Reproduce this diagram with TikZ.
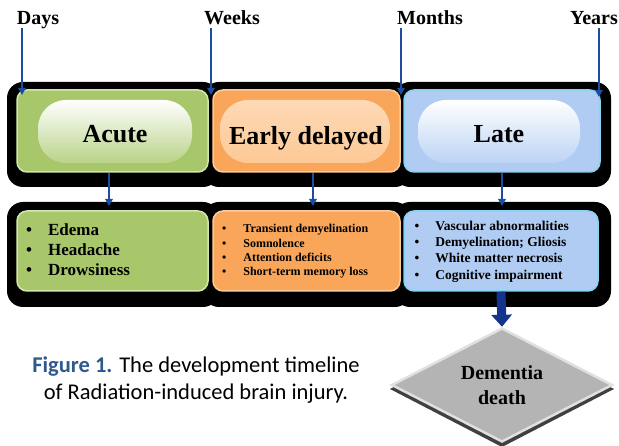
\documentclass[tikz,border=0pt]{standalone}
\usepackage{fontspec}
\setmainfont{Liberation Serif}
\newfontfamily\capfont{Carlito}
\usetikzlibrary{arrows.meta,shapes.geometric}
\definecolor{gfill}{HTML}{A8C76A}
\definecolor{gline}{HTML}{D2E6AE}
\definecolor{ofill}{HTML}{F9A65A}
\definecolor{oline}{HTML}{FCCB9C}
\definecolor{opill}{HTML}{FDC995}
\definecolor{bfill}{HTML}{B0CCF2}
\definecolor{bline}{HTML}{86D3F0}
\definecolor{arrowblue}{HTML}{1C4DA1}
\definecolor{navy}{HTML}{13338C}
\definecolor{capblue}{HTML}{2F5B8C}
\definecolor{dgray}{HTML}{B4B4B4}
\definecolor{lgray}{HTML}{E0E0E0}
\tikzset{
  backing/.style={fill=black,rounded corners=16pt},
  stagebox/.style={rectangle,rounded corners=10pt,line width=1.5pt,inner sep=0pt},
  pill/.style={rectangle,rounded corners=28pt,inner sep=0pt,minimum height=63pt},
  stagelabel/.style={font=\fontsize{26}{30}\selectfont\bfseries,anchor=base,inner sep=0pt},
  timelabel/.style={font=\fontsize{20}{24}\selectfont\bfseries,anchor=base,inner sep=0pt},
  tarrow/.style={draw=arrowblue,line width=2pt,-{Triangle[length=7pt,width=7.5pt]}},
  listnode/.style={anchor=west,inner sep=0pt,align=left}
}
\begin{document}
\begin{tikzpicture}[x=1pt,y=-1pt]
\useasboundingbox (0,0) rectangle (619,446);
% black backings
\fill[backing] (7,82) rectangle (219,187);
\fill[backing] (203,82) rectangle (411,187);
\fill[backing] (394,82) rectangle (611,187);
\fill[backing] (7,202) rectangle (219,307);
\fill[backing] (203,202) rectangle (411,307);
\fill[backing] (394,202) rectangle (611,307);
% top boxes
\node[stagebox,fill=gfill,draw=gline,minimum width=191pt,minimum height=82pt] (acute) at (112.5,131) {};
\node[stagebox,fill=ofill,draw=oline,minimum width=187pt,minimum height=82pt] (early) at (306.5,131) {};
\node[stagebox,fill=bfill,draw=bline,minimum width=196pt,minimum height=82pt] (late) at (502,131) {};
% pills
\node[pill,top color=white,bottom color=gfill!80!white,minimum width=154pt] (pa) at (115,131.5) {};
\node[pill,top color=opill!70!white,bottom color=opill,minimum width=170pt] (pe) at (305,131.5) {};
\node[pill,top color=white,bottom color=bfill!85!white,minimum width=162pt] (pl) at (499,131.5) {};
\node[stagelabel] (ta) at (115,143) {Acute};
\node[stagelabel] (te) at (306,145) {Early delayed};
\node[stagelabel] (tl) at (499,143) {Late};
% bottom boxes
\node[stagebox,fill=gfill,draw=gline,minimum width=191pt,minimum height=80pt] (acuteb) at (112.5,251) {};
\node[stagebox,fill=ofill,draw=oline,minimum width=187pt,minimum height=80pt] (earlyb) at (306.5,251) {};
\node[stagebox,fill=bfill,draw=bline,minimum width=194pt,minimum height=80pt] (lateb) at (501,251) {};
% lists
\node[listnode,font=\fontsize{17}{20}\selectfont\bfseries] (la) at (26,252) {%
  \begin{tabular}{@{}l@{\hspace{16pt}}l@{}}
  \textbullet & Edema\\ \textbullet & Headache\\ \textbullet & Drowsiness
  \end{tabular}};
\node[listnode,font=\fontsize{12}{14.4}\selectfont\bfseries] (le) at (222,251.5) {%
  \begin{tabular}{@{}l@{\hspace{17pt}}l@{}}
  \textbullet & Transient demyelination\\ \textbullet & Somnolence\\ \textbullet & Attention deficits\\ \textbullet & Short-term memory loss
  \end{tabular}};
\node[listnode,font=\fontsize{13.5}{16.3}\selectfont\bfseries] (ll) at (414.5,251.5) {%
  \begin{tabular}{@{}l@{\hspace{16pt}}l@{}}
  \textbullet & Vascular abnormalities\\ \textbullet & Demyelination; Gliosis\\ \textbullet & White matter necrosis\\ \textbullet & Cognitive impairment
  \end{tabular}};
% time labels
\node[timelabel] (days) at (38,25) {Days};
\node[timelabel] (weeks) at (232,25) {Weeks};
\node[timelabel] (months) at (430,25) {Months};
\node[timelabel] (years) at (594,25) {Years};
\coordinate (d1) at (22,28); \coordinate (d2) at (22,95);
\coordinate (w1) at (211,28); \coordinate (w2) at (211,95);
\coordinate (m1) at (401,28); \coordinate (m2) at (401,95);
\coordinate (y1) at (599,28); \coordinate (y2) at (599,97);
\draw[tarrow] (d1) -- (d2);
\draw[tarrow] (w1) -- (w2);
\draw[tarrow] (m1) -- (m2);
\draw[tarrow] (y1) -- (y2);
% stage to list arrows
\draw[tarrow] (acute.south -| 109,0) -- (109,206);
\draw[tarrow] (early.south -| 313,0) -- (313,206);
\draw[tarrow] (late.south -| 502,0) -- (502,206);
% diamond
\fill[black!75] (502,331) -- (614,389) -- (502,447) -- (390,389) -- cycle;
\node[diamond,aspect=2,minimum width=221pt,minimum height=114pt,inner sep=0pt,fill=dgray,draw=lgray,line width=2.5pt,align=center,font=\fontsize{20}{25}\selectfont\bfseries] (dem) at (502,385) {Dementia\\death};
\draw[navy,line width=9pt,-{Triangle[length=12pt,width=20pt]}] (lateb.south) -- (dem.north);
% caption
\node[align=center,font=\capfont\fontsize{22.5}{27}\selectfont,inner sep=0pt] (cap) at (196,380) {{\color{capblue}\bfseries Figure 1.} The development timeline\\of Radiation-induced brain injury.};
\end{tikzpicture}
\end{document}
